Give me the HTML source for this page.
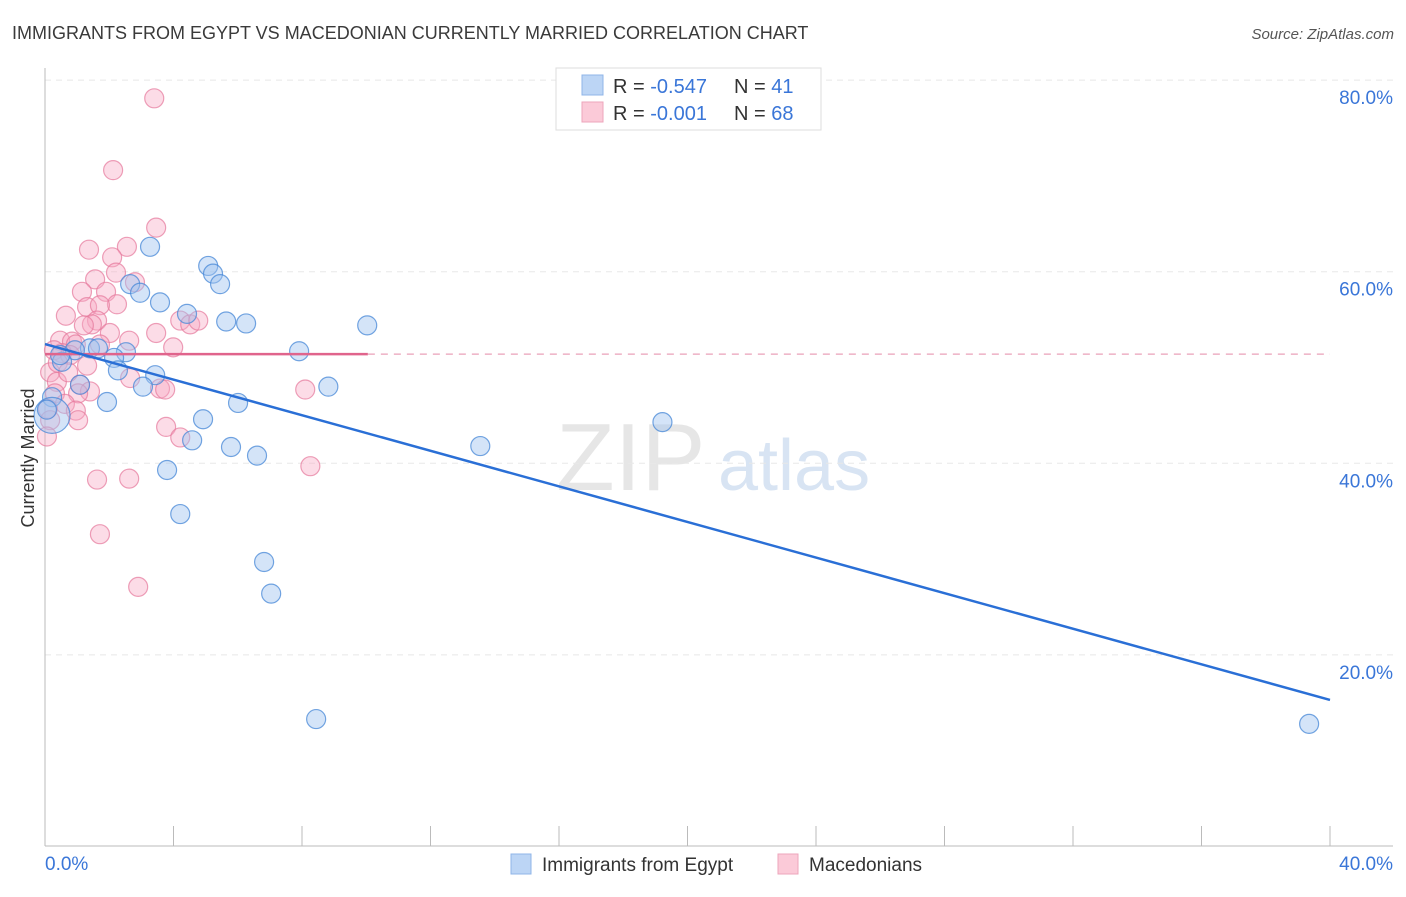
<!DOCTYPE html>
<html><head><meta charset="utf-8"><style>
body{margin:0;background:#fff;font-family:"Liberation Sans",sans-serif}
svg text{font-family:"Liberation Sans",sans-serif}
</style></head><body>
<svg id="c" width="1406" height="892" xmlns="http://www.w3.org/2000/svg">
<text x="12" y="39" font-size="18" fill="#3a3a3a">IMMIGRANTS FROM EGYPT VS MACEDONIAN CURRENTLY MARRIED CORRELATION CHART</text>
<text x="1394" y="39" font-size="15" fill="#555" font-style="italic" text-anchor="end">Source: ZipAtlas.com</text>
<text x="556" y="490" font-size="96" fill="#e6e6e6" font-family="Liberation Serif">ZIP</text>
<text x="718" y="490" font-size="72" fill="#d8e4f3">atlas</text>
<g id="grid"></g><g id="axes"></g><g id="pts"></g><g id="lines"></g>
<text x="34" y="458" font-size="18" fill="#333" transform="rotate(-90 34 458)" text-anchor="middle">Currently Married</text>
<g>
<rect x="556" y="68" width="265" height="62" fill="#fff" stroke="#ddd"/>
<rect x="582" y="75" width="21" height="20" fill="#bcd5f5" stroke="#8fb5e8"/>
<rect x="582" y="102" width="21" height="20" fill="#fbcad8" stroke="#eea5bb"/>
<text x="613" y="93" font-size="20" fill="#333">R = <tspan fill="#3a76d8">-0.547</tspan></text>
<text x="734" y="93" font-size="20" fill="#333">N = <tspan fill="#3a76d8"> 41</tspan></text>
<text x="613" y="120" font-size="20" fill="#333">R = <tspan fill="#3a76d8">-0.001</tspan></text>
<text x="734" y="120" font-size="20" fill="#333">N = <tspan fill="#3a76d8">68</tspan></text>
</g>
<g>
<rect x="511" y="854" width="20" height="20" fill="#bcd5f5" stroke="#8fb5e8"/>
<text x="542" y="871" font-size="19" fill="#333">Immigrants from Egypt</text>
<rect x="778" y="854" width="20" height="20" fill="#fbcad8" stroke="#eea5bb"/>
<text x="809" y="871" font-size="19" fill="#333">Macedonians</text>
</g>
</svg>
<script>
const xTicks=[0,40];
const yTicks=[20,40,60,80];
const blueX=[3.27,5.08,5.23,5.45,2.65,2.96,3.58,4.42,5.64,6.26,10.03,7.91,1.40,1.65,0.93,2.52,0.53,2.15,2.27,3.43,3.05,8.82,1.93,6.01,0.22,4.92,19.22,13.55,4.58,5.79,6.60,3.80,4.21,6.82,7.04,8.44,39.35,0.22,1.09,0.47,0.06];
const blueY=[62.6,60.6,59.8,58.7,58.7,57.8,56.8,55.6,54.8,54.6,54.4,51.7,52.0,52.0,51.8,51.6,50.6,51.0,49.7,49.2,48.0,48.0,46.4,46.3,46.9,44.6,44.3,41.8,42.4,41.7,40.8,39.3,34.7,29.7,26.4,13.3,12.8,45.0,48.2,51.3,45.6];
const pinkX=[3.40,2.12,3.46,2.55,1.37,2.09,2.21,1.56,2.80,1.15,1.90,1.31,2.24,1.71,0.65,1.62,1.46,1.21,4.21,4.52,3.46,2.02,4.77,2.62,3.99,0.47,0.84,0.96,0.53,0.28,0.16,1.31,2.65,0.37,1.09,1.40,3.58,3.74,8.10,0.31,1.03,0.62,0.09,0.96,0.16,1.03,3.77,4.21,0.06,8.26,1.62,2.62,1.71,2.90,0.78,0.40,1.71,0.72];
const pinkY=[78.1,70.6,64.6,62.6,62.3,61.5,59.9,59.2,58.9,57.9,57.9,56.3,56.6,56.5,55.4,54.9,54.5,54.4,54.9,54.5,53.6,53.6,54.9,52.8,52.1,52.8,52.7,52.4,51.5,51.8,49.5,50.2,48.9,48.5,48.2,47.5,47.8,47.7,47.7,47.3,47.3,46.2,45.7,45.5,44.5,44.5,43.8,42.7,42.8,39.7,38.3,38.4,32.6,27.1,51.3,50.5,52.4,49.5];
const blueTrend=[52.45,15.3];
const pinkTrend=[51.4,51.4];
const pinkSolidEnd=10.05;
const X=v=>45+v*32.125, Y=v=>846.5-v*9.58;
const NS='http://www.w3.org/2000/svg';
function mk(p,t,a){const e=document.createElementNS(NS,t);for(const k in a)e.setAttribute(k,a[k]);document.getElementById(p).appendChild(e);return e;}
yTicks.forEach(t=>{
 const l=mk('grid','line',{x1:45,x2:1393,y1:Y(t),y2:Y(t),stroke:'#e8e8e8','stroke-dasharray':'6,5'});
 
 
 const tx=mk('grid','text',{x:1393,y:Y(t)+24,'font-size':19,fill:'#3a76d8','text-anchor':'end'});
 tx.textContent=t.toFixed(1)+'%';
 
 
});
mk('axes','line',{x1:45,x2:45,y1:68,y2:846,stroke:'#bbb'});
mk('axes','line',{x1:45,x2:1393,y1:846,y2:846,stroke:'#bbb'});
for(let i=0;i<=10;i++){const x=X(i*4);mk('axes','line',{x1:x,x2:x,y1:826,y2:846,stroke:'#bbb'});}
xTicks.forEach((t,i)=>{
 const tx=mk('axes','text',{x:i?1393:45,y:870,'font-size':19,fill:'#3a76d8','text-anchor':i?'end':'start'});
 tx.textContent=t.toFixed(1)+'%';
 
 
});
pinkX.forEach((v,i)=>{
 const c=mk('pts','circle',{cx:X(v),cy:Y(pinkY[i]),r:9.5,fill:'rgba(247,168,194,0.4)',stroke:'rgba(230,120,155,0.7)','stroke-width':1.2});
 
 
});
blueX.forEach((v,i)=>{
 const c=mk('pts','circle',{cx:X(v),cy:Y(blueY[i]),r:i==37?18:9.5,fill:'rgba(160,196,240,0.45)',stroke:'rgba(70,135,215,0.75)','stroke-width':1.2});
 
 
});
let l=mk('lines','line',{x1:X(0),y1:Y(pinkTrend[0]),x2:X(pinkSolidEnd),y2:Y(pinkTrend[0]),stroke:'#e0648c','stroke-width':2.5});


l=mk('lines','line',{x1:X(pinkSolidEnd),y1:Y(pinkTrend[0]),x2:X(40),y2:Y(pinkTrend[1]),stroke:'#eaa0b8','stroke-width':1.2,'stroke-dasharray':'7,6'});


l=mk('lines','line',{x1:X(0),y1:Y(blueTrend[0]),x2:X(40),y2:Y(blueTrend[1]),stroke:'#2a6fd6','stroke-width':2.5});


</script>
</body></html>
